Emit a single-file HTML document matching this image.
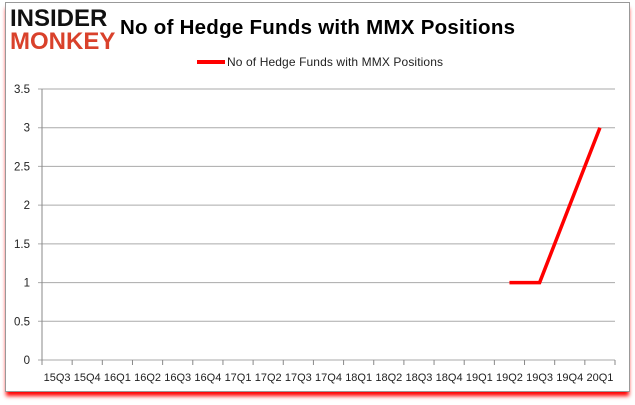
<!DOCTYPE html>
<html><head><meta charset="utf-8"><style>
body{margin:0;background:#fff;width:635px;height:405px;overflow:hidden;font-family:"Liberation Sans",sans-serif}
#frame{position:absolute;left:5px;top:2px;width:623px;height:388px;border:1px solid #999;background:#fff;box-shadow:0 5px 4px -1px #f00}
</style></head><body>
<div id="frame"></div>
<svg id="c" width="635" height="405" style="position:absolute;left:0;top:0">
<text x="10" y="26" font-family="Liberation Sans" font-weight="bold" font-size="24" fill="#111">INSIDER</text>
<text x="10" y="49" font-family="Liberation Sans" font-weight="bold" font-size="24" fill="#d9412b">MONKEY</text>
<text x="120" y="34" font-size="20.5" font-weight="bold" fill="#000" textLength="395">No of Hedge Funds with MMX Positions</text>
<line x1="197" y1="62" x2="225" y2="62" stroke="#f00" stroke-width="4"/>
<text x="227" y="66" font-size="12" fill="#222" textLength="216">No of Hedge Funds with MMX Positions</text>
</svg>
<script>
const categories=["15Q3","15Q4","16Q1","16Q2","16Q3","16Q4","17Q1","17Q2","17Q3","17Q4","18Q1","18Q2","18Q3","18Q4","19Q1","19Q2","19Q3","19Q4","20Q1"];
const values=[null,null,null,null,null,null,null,null,null,null,null,null,null,null,null,1,1,2,3];
const yTicks=[0,0.5,1,1.5,2,2.5,3,3.5];
const ns="http://www.w3.org/2000/svg",svg=document.getElementById('c');
const L=42,R=615,T=89,B=360,yMax=3.5;
const bw=(R-L)/categories.length;
const xs=i=>L+(i+0.5)*bw, ys=v=>B-(v/yMax)*(B-T);
function mk(t,a){const e=document.createElementNS(ns,t);for(const k in a)e.setAttribute(k,a[k]);svg.appendChild(e);return e;}
yTicks.forEach(v=>{
 const g=mk('line',{x1:L-4,x2:R,y1:ys(v),y2:ys(v),stroke:'#aaa','stroke-width':1});
 
 
 const t=mk('text',{x:L-12,y:ys(v)+4,'text-anchor':'end','font-size':11.5,fill:'#222'});t.textContent=v;
 
 
});
const ax=mk('line',{x1:L,x2:L,y1:T,y2:B,stroke:'#888'});


categories.forEach((c,i)=>{
 const tk=mk('line',{x1:L+i*bw,x2:L+i*bw,y1:B,y2:B+5,stroke:'#888'});
 
 
 const t=mk('text',{x:xs(i),y:B+21,'text-anchor':'middle','font-size':11,fill:'#222'});t.textContent=c;
 
 
});
const tk=mk('line',{x1:R,x2:R,y1:B,y2:B+5,stroke:'#888'});


let d='';values.forEach((v,i)=>{if(v==null)return;d+=(d?'L':'M')+xs(i)+' '+ys(v);});
const p=mk('path',{d:d,fill:'none',stroke:'#f00','stroke-width':3.5});


</script>
</body></html>
